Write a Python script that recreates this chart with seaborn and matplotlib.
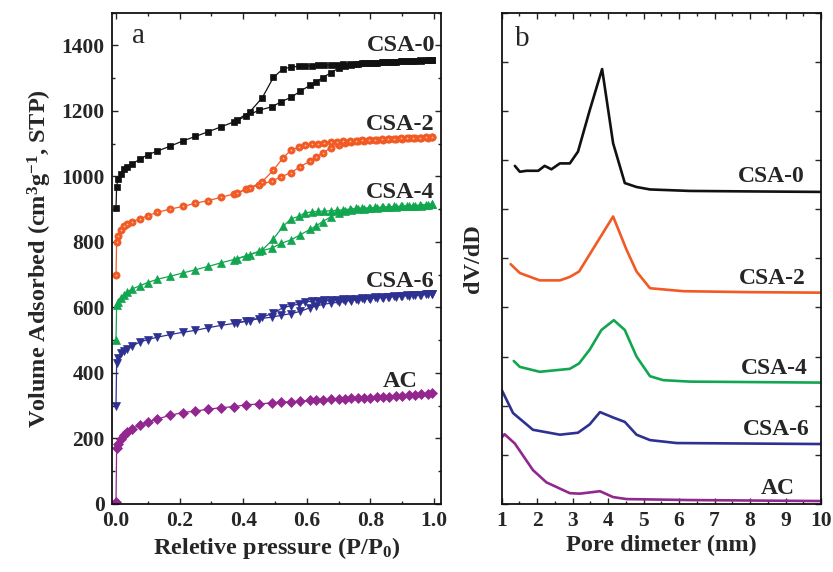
import numpy as np
import pandas as pd
import matplotlib
matplotlib.use("Agg")
import matplotlib.pyplot as plt
import seaborn as sns
from matplotlib.ticker import MultipleLocator, FormatStrFormatter

# ---------------- data: panel a (N2 isotherms) ----------------
P_ADS = [0.0, 0.002, 0.006, 0.015, 0.025, 0.035, 0.05, 0.075, 0.10, 0.13, 0.17, 0.21,
         0.25, 0.29, 0.33, 0.37, 0.41, 0.45, 0.49, 0.52, 0.55, 0.58, 0.61, 0.63, 0.65,
         0.675, 0.70, 0.72, 0.74, 0.76, 0.78, 0.80, 0.82, 0.84, 0.86, 0.88, 0.90, 0.92,
         0.94, 0.96, 0.98, 0.995]
P_DES = [0.995, 0.975, 0.955, 0.935, 0.915, 0.895, 0.875, 0.855, 0.835, 0.815, 0.795,
         0.775, 0.755, 0.735, 0.715, 0.695, 0.675, 0.655, 0.635, 0.615, 0.595, 0.575,
         0.55, 0.525, 0.495, 0.46, 0.42, 0.38]

CSA0_ADS = [903, 969, 991, 1008, 1022, 1030, 1038, 1052, 1066, 1077, 1092, 1108, 1122, 1136,
            1151, 1166, 1184, 1202, 1212, 1228, 1241, 1260, 1278, 1289, 1301, 1316, 1330,
            1337, 1341, 1343, 1345, 1346, 1347, 1348, 1349, 1350, 1351, 1352, 1352, 1353,
            1354, 1355]
CSA0_DES = [1356, 1355, 1354, 1353, 1352, 1351, 1350, 1349, 1348, 1347, 1346, 1345, 1344,
            1343, 1342, 1341, 1340, 1339, 1339, 1338, 1337, 1336, 1333, 1328, 1302, 1240,
            1196, 1172]
CSA2_ADS = [700, 800, 817, 835, 849, 856, 862, 870, 880, 890, 900, 908, 918, 926, 936, 946,
            961, 974, 985, 999, 1011, 1030, 1046, 1058, 1072, 1086, 1097, 1102, 1105, 1107,
            1109, 1110, 1111, 1112, 1113, 1114, 1115, 1116, 1117, 1117, 1118, 1119]
CSA2_DES = [1120, 1119, 1118, 1118, 1117, 1116, 1115, 1114, 1113, 1112, 1111, 1110, 1109,
            1108, 1107, 1106, 1104, 1102, 1100, 1098, 1096, 1089, 1080, 1056, 1019, 984,
            964, 949]
CSA4_ADS = [502, 606, 618, 630, 639, 647, 656, 666, 676, 686, 695, 705, 715, 725, 736, 746,
            758, 771, 781, 796, 806, 822, 838, 849, 862, 876, 888, 894, 897, 899, 901, 903,
            904, 905, 906, 907, 908, 909, 910, 911, 913, 915]
CSA4_DES = [916, 914, 912, 911, 910, 909, 908, 907, 906, 905, 904, 903, 902, 900, 898, 896,
            895, 894, 893, 891, 889, 878, 870, 847, 809, 775, 760, 748]
CSA6_ADS = [300, 431, 445, 460, 468, 474, 482, 494, 502, 509, 517, 524, 530, 538, 545, 551,
            558, 566, 570, 576, 581, 588, 599, 604, 609, 613, 616, 619, 621, 623, 625, 627,
            629, 630, 632, 633, 635, 636, 637, 638, 640, 641]
CSA6_DES = [641, 640, 639, 638, 637, 636, 634, 633, 632, 631, 629, 628, 627, 626, 625, 624,
            623, 622, 621, 619, 616, 610, 605, 599, 583, 570, 560, 553]
AC_ADS = [5, 172, 183, 198, 210, 220, 230, 240, 250, 259, 271, 279, 284, 289, 294, 297, 303,
          305, 309, 311, 312, 314, 316, 317, 318, 319, 320, 321, 322, 323, 324, 325, 326, 327,
          328, 330, 331, 332, 334, 335, 337, 338]

# ---------------- data: panel b (pore size distribution) ----------------
D_CSA0 = [1.37, 1.51, 1.70, 2.03, 2.21, 2.40, 2.64, 2.92, 3.15, 3.48, 3.83, 4.14, 4.47, 4.80, 5.18, 6.30, 8.0, 10.0]
V_CSA0 = [6.88, 6.76, 6.78, 6.78, 6.88, 6.81, 6.93, 6.93, 7.17, 8.01, 8.85, 7.34, 6.53, 6.45, 6.40, 6.37, 6.36, 6.35]
D_CSA2 = [1.25, 1.51, 2.07, 2.64, 2.92, 3.18, 4.14, 4.52, 4.80, 5.18, 6.12, 8.0, 10.0]
V_CSA2 = [4.88, 4.70, 4.55, 4.55, 4.62, 4.73, 5.85, 5.17, 4.73, 4.39, 4.33, 4.31, 4.30]
D_CSA4 = [1.34, 1.51, 2.07, 2.92, 3.18, 3.48, 3.81, 4.16, 4.47, 4.80, 5.18, 5.55, 6.30, 10.0]
V_CSA4 = [2.91, 2.79, 2.69, 2.75, 2.86, 3.14, 3.54, 3.74, 3.54, 3.00, 2.60, 2.52, 2.49, 2.47]
D_CSA6 = [1.0, 1.32, 1.88, 2.64, 3.15, 3.48, 3.77, 4.14, 4.47, 4.80, 5.18, 5.93, 10.0]
V_CSA6 = [2.32, 1.85, 1.51, 1.41, 1.45, 1.62, 1.87, 1.76, 1.67, 1.41, 1.30, 1.24, 1.22]
D_AC = [1.02, 1.08, 1.37, 1.88, 2.26, 2.92, 3.20, 3.77, 4.14, 4.52, 6.30, 10.0]
V_AC = [1.37, 1.42, 1.23, 0.69, 0.44, 0.22, 0.21, 0.26, 0.14, 0.10, 0.08, 0.06]

NAMES = ["CSA-0", "CSA-2", "CSA-4", "CSA-6", "AC"]
COLORS = ["#111111", "#f15a24", "#12a650", "#2e3192", "#92278f"]
MARKERS = ["s", "o", "^", "v", "D"]
MSIZES = [4.6, 5.2, 6.2, 6.2, 5.2]

# ---------------- style ----------------
sns.set_theme(style="ticks")
plt.rcParams["font.family"] = ["Liberation Serif", "DejaVu Serif"]
plt.rcParams["font.weight"] = "bold"
plt.rcParams["mathtext.fontset"] = "custom"
plt.rcParams["mathtext.rm"] = "Liberation Serif:bold"
plt.rcParams["mathtext.it"] = "Liberation Serif:bold"
plt.rcParams["mathtext.bf"] = "Liberation Serif:bold"

fig = plt.figure(figsize=(8.33, 5.72), dpi=100)
axa = fig.add_axes([0.1341, 0.1189, 0.5294 - 0.1341, 0.9781 - 0.1189])
axb = fig.add_axes([0.6023, 0.1189, 0.9856 - 0.6023, 0.9781 - 0.1189])

# ---------------- panel a ----------------
iso = {
    "CSA-0": (CSA0_ADS, CSA0_DES),
    "CSA-2": (CSA2_ADS, CSA2_DES),
    "CSA-4": (CSA4_ADS, CSA4_DES),
    "CSA-6": (CSA6_ADS, CSA6_DES),
    "AC": (AC_ADS, None),
}
for name, col, mk, ms in zip(NAMES, COLORS, MARKERS, MSIZES):
    ads, des = iso[name]
    branches = [(P_ADS, ads)]
    if des is not None:
        branches.append((P_DES, des))
    for px, vy in branches:
        df = pd.DataFrame({"P": px, "V": vy})
        sns.lineplot(data=df, x="P", y="V", ax=axa, sort=False, estimator=None,
                     color=col, lw=0.9, marker=mk, markersize=ms,
                     markeredgecolor=col, markerfacecolor=col, markeredgewidth=0.5)
        if name == "CSA-2":
            sns.lineplot(data=df, x="P", y="V", ax=axa, sort=False, estimator=None,
                         lw=0, marker="o", markersize=1.3, color="#f9b89c",
                         markeredgewidth=0)

axa.set_xlim(-0.0135, 1.022)
axa.set_ylim(0, 1500)
axa.xaxis.set_major_locator(MultipleLocator(0.2))
axa.xaxis.set_minor_locator(MultipleLocator(0.1))
axa.yaxis.set_major_locator(MultipleLocator(200))
axa.yaxis.set_minor_locator(MultipleLocator(100))
axa.xaxis.set_major_formatter(FormatStrFormatter("%.1f"))
axa.set_xlabel("Reletive pressure (P/P$_{0}$)", fontsize=17.5, fontweight="bold", labelpad=3)
axa.set_ylabel("Volume Adsorbed (cm$^{3}$g$^{-1}$, STP)", fontsize=17.5, fontweight="bold", labelpad=5)

lab_a = {"CSA-0": (1.003, 1400), "CSA-2": (1.003, 1159), "CSA-4": (1.003, 952),
         "CSA-6": (1.003, 678), "AC": (0.95, 373)}
for name in NAMES:
    x, y = lab_a[name]
    axa.text(x, y, name, ha="right", va="center", fontsize=17.5, fontweight="bold")
axa.text(0.07, 1407, "a", ha="center", va="baseline", fontsize=21, fontweight="normal")

# ---------------- panel b ----------------
psd = {"CSA-0": (D_CSA0, V_CSA0), "CSA-2": (D_CSA2, V_CSA2), "CSA-4": (D_CSA4, V_CSA4),
       "CSA-6": (D_CSA6, V_CSA6), "AC": (D_AC, V_AC)}
for name, col in zip(NAMES, COLORS):
    dx, vy = psd[name]
    df = pd.DataFrame({"D": dx, "dV": vy})
    sns.lineplot(data=df, x="D", y="dV", ax=axb, sort=False, estimator=None,
                 color=col, lw=1.9)

axb.set_xlim(1, 10)
axb.set_ylim(0, 10)
axb.xaxis.set_major_locator(MultipleLocator(1))
axb.xaxis.set_minor_locator(MultipleLocator(0.5))
axb.yaxis.set_major_locator(MultipleLocator(1))
axb.set_yticklabels([])
axb.set_xlabel("Pore dimeter (nm)", fontsize=17.5, fontweight="bold", labelpad=3)
axb.set_ylabel("dV/dD", fontsize=17.5, fontweight="bold", labelpad=8)

lab_b = {"CSA-0": (9.55, 6.66), "CSA-2": (9.57, 4.59), "CSA-4": (9.64, 2.76),
         "CSA-6": (9.69, 1.51), "AC": (9.27, 0.32)}
for name in NAMES:
    x, y = lab_b[name]
    axb.text(x, y, name, ha="right", va="center", fontsize=17, fontweight="bold")
axb.text(1.59, 9.32, "b", ha="center", va="baseline", fontsize=21, fontweight="normal")

for ax in (axa, axb):
    ax.tick_params(which="both", direction="in", top=True, right=True, width=1.0)
    ax.tick_params(which="major", length=4.5, labelsize=15.5, pad=5)
    ax.tick_params(which="minor", length=2.5)
    for lbl in ax.get_xticklabels() + ax.get_yticklabels():
        lbl.set_fontweight("bold")
    for s in ax.spines.values():
        s.set_linewidth(1.3)
        s.set_color("#111111")

fig.savefig("out.png", dpi=100)
